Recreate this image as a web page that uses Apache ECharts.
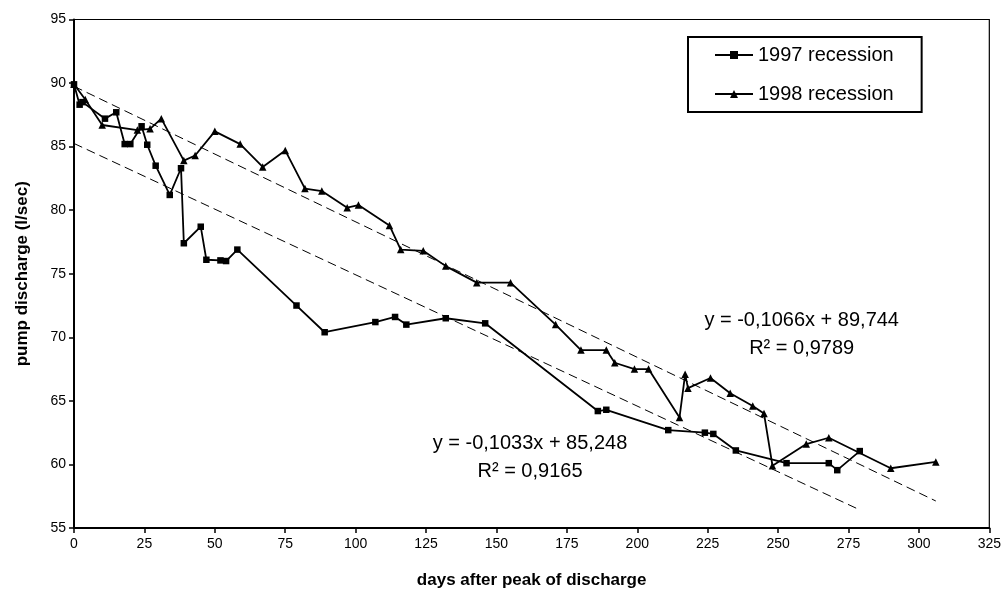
<!DOCTYPE html>
<html><head><meta charset="utf-8">
<script src="https://cdn.jsdelivr.net/npm/echarts@6/dist/echarts.min.js"></script>
<style>html,body{margin:0;padding:0;background:#fff}#c{width:1004px;height:594px}</style>
</head><body><div id="c"></div>
<script>
const days1997 = [0,2,3,11,15,18,20,24,26,29,34,38,39,45,47,52,54,58,79,89,107,114,118,132,146,186,189,211,224,227,235,253,268,271,279];
const vals1997 = [89.9,88.3,88.5,87.2,87.7,85.2,85.2,86.6,85.15,83.5,81.2,83.3,77.4,78.7,76.1,76.05,76.0,76.9,72.5,70.4,71.2,71.6,71.0,71.5,71.1,64.2,64.3,62.7,62.5,62.4,61.1,60.1,60.1,59.55,61.05];
const days1998 = [0,4,10,22.5,27,31,39,43,50,59,67,75,82,88,97,101,112,116,124,132,143,155,171,180,189,192,199,204,215,217,218,226,233,241,245,248,260,268,290,306];
const vals1998 = [89.9,88.7,86.7,86.3,86.4,87.2,83.9,84.3,86.2,85.2,83.4,84.7,81.7,81.5,80.2,80.4,78.8,76.9,76.8,75.6,74.3,74.3,71.0,69.0,69.0,68.0,67.5,67.5,63.7,67.1,66.0,66.8,65.6,64.6,64.0,59.9,61.6,62.1,59.7,60.2];
const seriesNames = ['1997 recession','1998 recession'];
// trend lines: slope, intercept, x range
const trend1997 = {slope:-0.1033, intercept:85.248, xStart:0, xEnd:279};
const trend1998 = {slope:-0.1066, intercept:89.744, xStart:0, xEnd:306};
const eqText1997 = ['y = -0,1033x + 85,248','R² = 0,9165'];
const eqText1998 = ['y = -0,1066x + 89,744','R² = 0,9789'];
const xTicks = {min:0,max:325,interval:25};
const yTicks = {min:55,max:95,interval:5};

function pairs(xs,ys){return xs.map((x,i)=>[x,ys[i]]);}
function trendData(t){return [[t.xStart,t.intercept+t.slope*t.xStart],[t.xEnd,t.intercept+t.slope*t.xEnd]];}

const FONT='"Liberation Sans", Arial, sans-serif';
const chart = echarts.init(document.getElementById('c'),null,{renderer:'canvas'});
const lineStyle={color:'#000',width:1.8};
function txt(x,y,s){return {type:'text',x:x,y:y,z:10,style:{text:s,font:'20px '+FONT,fill:'#000',align:'center',verticalAlign:'middle'}};}
chart.setOption({
  animation:false,
  backgroundColor:'#fff',
  grid:{left:74,right:14,top:19.5,bottom:60.5,show:true,borderColor:'#000',borderWidth:1.2,backgroundColor:'#fff'},
  xAxis:{type:'value',min:xTicks.min,max:xTicks.max,interval:xTicks.interval,
    name:'days after peak of discharge',nameLocation:'middle',nameGap:44,
    nameTextStyle:{fontFamily:FONT,fontWeight:'bold',fontSize:17,color:'#000'},
    axisLine:{show:true,lineStyle:{color:'#000',width:2}},
    axisTick:{show:true,inside:false,length:5,lineStyle:{color:'#000',width:1.5}},
    axisLabel:{fontFamily:FONT,fontSize:14,color:'#000',margin:9},
    splitLine:{show:false}},
  yAxis:{type:'value',min:yTicks.min,max:yTicks.max,interval:yTicks.interval,
    name:'pump discharge (l/sec)',nameLocation:'middle',nameGap:43,
    nameTextStyle:{fontFamily:FONT,fontWeight:'bold',fontSize:17,color:'#000'},
    axisLine:{show:true,lineStyle:{color:'#000',width:2}},
    axisTick:{show:true,inside:false,length:5,lineStyle:{color:'#000',width:1.5}},
    axisLabel:{fontFamily:FONT,fontSize:14,color:'#000',margin:8},
    splitLine:{show:false}},
  legend:{orient:'vertical',left:688,top:37,padding:[8,28,8,26],itemGap:19,
    borderColor:'#000',borderWidth:2,backgroundColor:'#fff',
    itemWidth:38,itemHeight:10,
    textStyle:{fontFamily:FONT,fontSize:20,color:'#000'},
    data:seriesNames},
  series:[
    {type:'line',name:'trend1997',data:trendData(trend1997),symbol:'none',silent:true,
     lineStyle:{color:'#000',width:1,type:[9,5]},z:1},
    {type:'line',name:'trend1998',data:trendData(trend1998),symbol:'none',silent:true,
     lineStyle:{color:'#000',width:1,type:[9,5]},z:1},
    {type:'line',name:seriesNames[0],data:pairs(days1997,vals1997),symbol:'rect',symbolSize:6.5,
     itemStyle:{color:'#000'},lineStyle:lineStyle,z:3},
    {type:'line',name:seriesNames[1],data:pairs(days1998,vals1998),symbol:'triangle',symbolSize:7.5,
     itemStyle:{color:'#000'},lineStyle:lineStyle,z:3}
  ],
  graphic:[
    txt(801.7,320,eqText1998[0]),
    txt(801.7,348.5,eqText1998[1]),
    txt(530,443.5,eqText1997[0]),
    txt(530,471.5,eqText1997[1])
  ]
});
</script></body></html>
